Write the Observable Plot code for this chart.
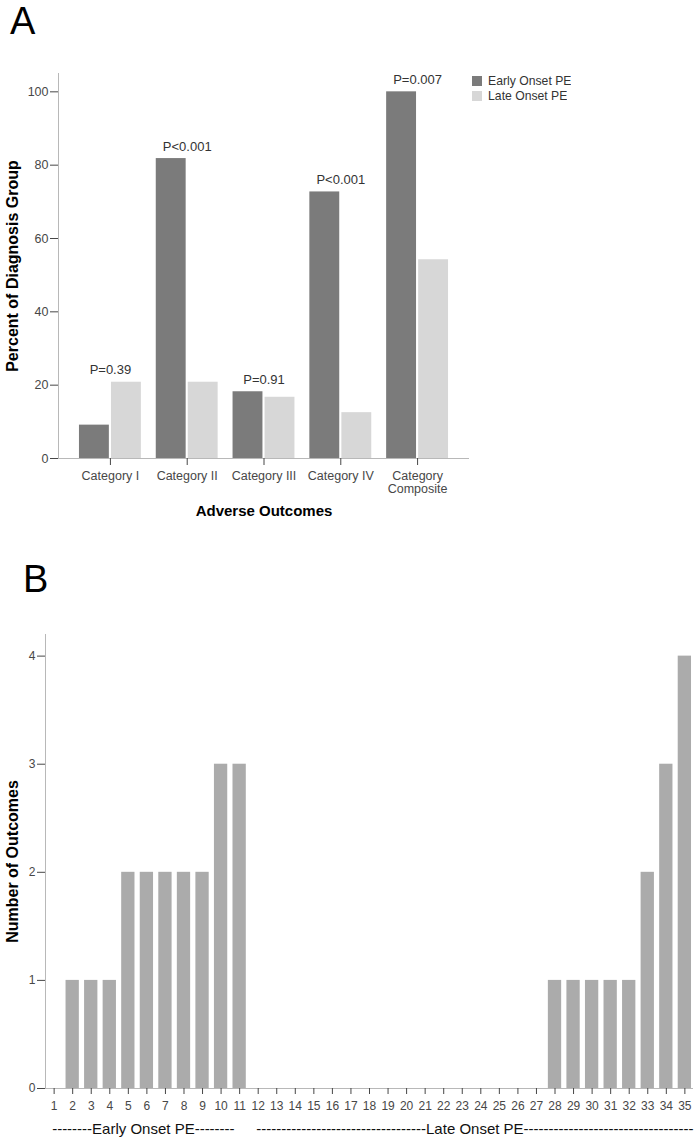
<!DOCTYPE html>
<html><head><meta charset="utf-8">
<script src="https://cdn.jsdelivr.net/npm/d3@7"></script>
<script src="https://cdn.jsdelivr.net/npm/@observablehq/plot@0.6"></script>
<style>
html,body{margin:0;padding:0;background:#fff;}
#wrap{position:relative;width:700px;height:1143px;overflow:hidden;font-family:"Liberation Sans",Arial,sans-serif;}
.panel-letter{position:absolute;font-size:38px;line-height:1;color:#000;}
#plotA{position:absolute;left:0;top:0;}
#plotB{position:absolute;left:0;top:540px;}
#legendA{position:absolute;left:472px;top:74px;}
</style></head><body>
<div id="wrap">
  <div id="plotA"></div>
  <div id="plotB"></div>
  <div id="legendA"></div>
  <div class="panel-letter" style="left:10px;top:2px">A</div>
  <div class="panel-letter" style="left:23px;top:560px">B</div>
</div>
<script>
// ---------- Panel A data ----------
const categories = ["Category I", "Category II", "Category III", "Category IV", "Category Composite"];
const seriesNames = ["Early Onset PE", "Late Onset PE"];
const earlyOnset = [9.1, 81.8, 18.2, 72.7, 100];
const lateOnset = [20.8, 20.8, 16.7, 12.5, 54.2];
const pValues = ["P=0.39", "P<0.001", "P=0.91", "P<0.001", "P=0.007"];
const yTicksA = [0, 20, 40, 60, 80, 100];
const seriesColors = ["#7b7b7b", "#d7d7d7"];

// ---------- Panel B data ----------
const patients = [1,2,3,4,5,6,7,8,9,10,11,12,13,14,15,16,17,18,19,20,21,22,23,24,25,26,27,28,29,30,31,32,33,34,35];
const outcomes = [0,1,1,1,2,2,2,2,2,3,3,0,0,0,0,0,0,0,0,0,0,0,0,0,0,0,0,1,1,1,1,1,2,3,4];
const yTicksB = [0, 1, 2, 3, 4];
const groupLabels = ["--------Early Onset PE--------", "----------------------------------Late Onset PE----------------------------------"];
const groupStart = [1, 12];
const barColorB = "#ababab";

const FONT = '"Liberation Sans", Arial, sans-serif';
const AXIS_LINE = "#b8b8b8";

const rowsA = categories.flatMap((c, i) => [
  {category: c, series: seriesNames[0], value: earlyOnset[i]},
  {category: c, series: seriesNames[1], value: lateOnset[i]}
]);
const pRows = categories.map((c, i) => ({category: c, p: pValues[i], top: Math.max(earlyOnset[i], lateOnset[i])}));

const plotA = Plot.plot({
  width: 700, height: 540,
  marginTop: 73, marginBottom: 82, marginLeft: 58, marginRight: 231,
  style: {fontFamily: FONT, fontSize: "12.5px", color: "#474747", background: "#fff", overflow: "visible"},
  x: {domain: categories, paddingInner: 0.194, paddingOuter: 0.273, round: false, label: null},
  y: {domain: [0, 105], label: null},
  color: {domain: seriesNames, range: seriesColors},
  marks: [
    Plot.barY(rowsA.filter(d => d.series === seriesNames[0]), {x: "category", y: "value", fill: "series", insetRight: 32}),
    Plot.barY(rowsA.filter(d => d.series === seriesNames[1]), {x: "category", y: "value", fill: "series", insetLeft: 32}),
    Plot.frame({anchor: "left", stroke: AXIS_LINE}),
    Plot.ruleY([0], {stroke: AXIS_LINE}),
    Plot.axisY({ticks: yTicksA, tickSize: 8, tickPadding: 2, label: null}),
    Plot.axisX({tickSize: 7, tickPadding: 5, lineHeight: 1.05, label: null,
      tickFormat: d => d.replace(" Composite", "\nComposite")}),
    Plot.text(pRows, {x: "category", y: "top", text: "p", dy: -12, fontSize: 13, fill: "#333"}),
    Plot.text(["Adverse Outcomes"], {frameAnchor: "bottom", lineAnchor: "middle", dy: 53, fontWeight: "bold", fontSize: 15, fill: "#000"}),
    Plot.text(["Percent of Diagnosis Group"], {frameAnchor: "left", textAnchor: "middle", rotate: -90, dx: -46, fontWeight: "bold", fontSize: 16, fill: "#000"})
  ]
});
document.getElementById("plotA").appendChild(plotA);

const legendA = plotA.legend("color", {
  columns: 1, swatchSize: 10,
  style: {fontFamily: FONT, fontSize: "12.2px", color: "#333", lineHeight: "14px", margin: "0"}
});
document.getElementById("legendA").appendChild(legendA);

const rowsB = patients.map((p, i) => ({patient: p, outcomes: outcomes[i]}));
const groupRows = groupLabels.map((l, i) => ({label: l, start: groupStart[i]}));

const plotB = Plot.plot({
  width: 700, height: 603,
  marginTop: 94, marginBottom: 55, marginLeft: 45, marginRight: 7,
  style: {fontFamily: FONT, fontSize: "12px", color: "#474747", background: "#fff", overflow: "visible"},
  x: {domain: patients, paddingInner: 0.283, paddingOuter: 0.107, round: false, label: null},
  y: {domain: [0, 4.2], label: null},
  marks: [
    Plot.barY(rowsB, {x: "patient", y: "outcomes", fill: barColorB}),
    Plot.frame({anchor: "left", stroke: AXIS_LINE}),
    Plot.ruleY([0], {stroke: AXIS_LINE}),
    Plot.axisY({ticks: yTicksB, tickSize: 8, tickPadding: 2, label: null, tickFormat: d => String(d)}),
    Plot.axisX({tickSize: 6, tickPadding: 7, label: null}),
    Plot.text(groupRows, {x: "start", text: "label", frameAnchor: "bottom", lineAnchor: "middle", textAnchor: "start", dx: -2, dy: 41, fontSize: 15, fill: "#111"}),
    Plot.text(["Number of Outcomes"], {frameAnchor: "left", textAnchor: "middle", rotate: -90, dx: -33, fontWeight: "bold", fontSize: 16, fill: "#000"})
  ]
});
document.getElementById("plotB").appendChild(plotB);
</script>
</body></html>
